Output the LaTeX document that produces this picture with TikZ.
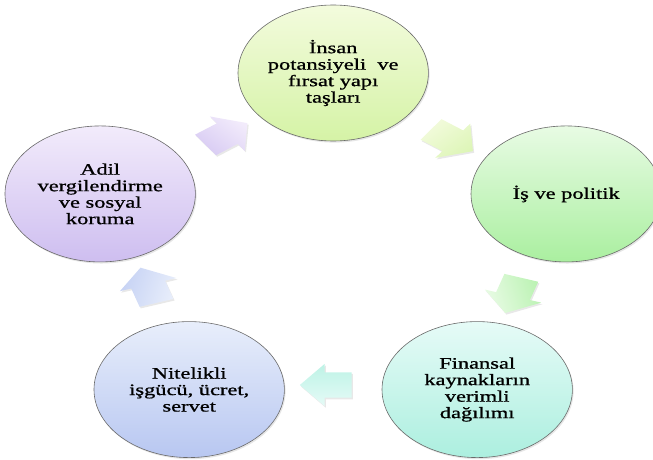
\documentclass[tikz,border=0pt]{standalone}
\usepackage{fontspec}
\usepackage{tikz}
\usetikzlibrary{shapes.arrows,shadows}
\newfontfamily\cyclefont[FakeBold=0.8]{Liberation Serif}
\definecolor{limeT}{HTML}{F3FBDD}
\definecolor{limeB}{HTML}{D5F3A6}
\definecolor{greenT}{HTML}{E8FBE4}
\definecolor{greenB}{HTML}{AAEFA0}
\definecolor{aquaT}{HTML}{E6FBF7}
\definecolor{aquaB}{HTML}{ACEFDF}
\definecolor{blueT}{HTML}{E8EEFB}
\definecolor{blueB}{HTML}{B8C7F1}
\definecolor{lilacT}{HTML}{F2EBFB}
\definecolor{lilacB}{HTML}{CEBEF0}
\definecolor{rim}{HTML}{6A6A6A}

\begin{document}
\begin{tikzpicture}[x=1pt, y=1pt,
  bubble/.style={circle, draw=rim, line width=0.6pt, minimum size=136pt, inner sep=0pt, align=center,
    font=\cyclefont\fontsize{16}{16.5}\selectfont,
    drop shadow={opacity=0.2, shadow xshift=1.2pt, shadow yshift=-1.6pt}},
  blk/.style={single arrow, draw=none, inner xsep=0pt, inner ysep=12.5pt, minimum height=37pt,
    single arrow head extend=8.5pt, single arrow tip angle=100,
    drop shadow={opacity=0.18, shadow xshift=1.2pt, shadow yshift=-1.6pt}}]
  \useasboundingbox (0,0) rectangle (653,459);
  \begin{scope}[xscale=1.4, transform shape, shift={(238,211)}]
    % the five stations of the cycle
    \node[bubble, top color=limeT, bottom color=limeB] (insan) at (90:175) {İnsan\\potansiyeli\ \ ve\\fırsat yapı\\taşları};
    \node[bubble, top color=greenT, bottom color=greenB] (isvepol) at (18:175) {İş ve politik};
    \node[bubble, top color=aquaT, bottom color=aquaB] (finans) at (-54:175) {Finansal\\kaynakların\\verimli\\dağılımı};
    \node[bubble, top color=blueT, bottom color=blueB] (nitelik) at (-126:175) {Nitelikli\\işgücü, ücret,\\servet};
    \node[bubble, top color=lilacT, bottom color=lilacB] (adil) at (162:175) {Adil\\vergilendirme\\ve sosyal\\koruma};
    % block arrows between them
    \node[blk, rotate=-36, top color=limeT, bottom color=limeB!80, shading angle=36] (okinsan) at (54:137) {};
    \node[blk, rotate=-108, top color=greenT, bottom color=greenB!80, shading angle=108] (okisvepol) at (-18:137) {};
    \node[blk, rotate=180, top color=aquaT, bottom color=aquaB!80, shading angle=180] (okfinans) at (-90:137) {};
    \node[blk, rotate=108, top color=blueT, bottom color=blueB!80, shading angle=-108] (oknitelik) at (-162:137) {};
    \node[blk, rotate=36, top color=lilacT, bottom color=lilacB!80, shading angle=-36] (okadil) at (126:137) {};
  \end{scope}
\end{tikzpicture}
\end{document}
